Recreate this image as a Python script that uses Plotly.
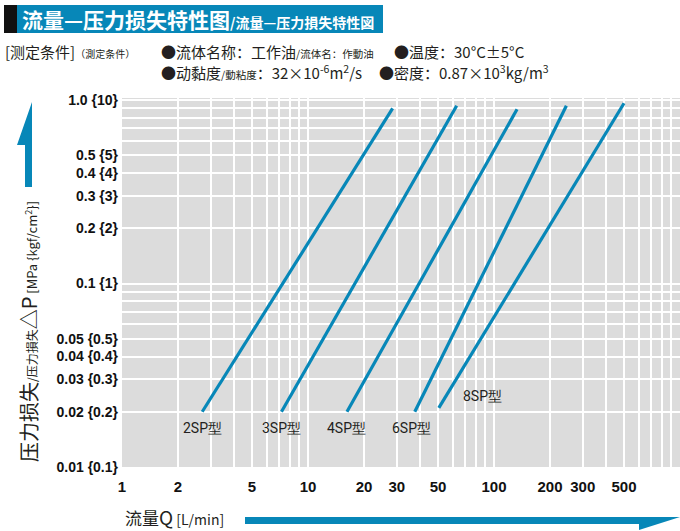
import math
import plotly.graph_objects as go

# ---------------- data ----------------
models = ["2SP型", "3SP型", "4SP型", "6SP型", "8SP型"]
flow_low = [2.7, 7.2, 16.2, 37.5, 50.5]        # L/min at the lower end of each line
flow_high = [28.5, 63, 133, 245, 500]          # L/min at the upper end
dp_low = [0.020, 0.020, 0.020, 0.020, 0.021]   # MPa at the lower end
dp_high = [0.90, 0.93, 0.89, 0.93, 0.96]       # MPa at the upper end

x_grid = [m * d for d in (1, 10, 100) for m in range(1, 10)] + [1000]
x_tick_vals = [1, 2, 5, 10, 20, 30, 50, 100, 200, 300, 500]
x_tick_text = ["1", "2", "5", "10", "20", "30", "50", "100", "200", "300", "500"]
y_grid = [round(m * d, 3) for d in (0.01, 0.1) for m in range(1, 10)] + [1.0]
y_tick_vals = [0.01, 0.02, 0.03, 0.04, 0.05, 0.1, 0.2, 0.3, 0.4, 0.5, 1.0]
y_tick_text = ["0.01 {0.1}", "0.02 {0.2}", "0.03 {0.3}", "0.04 {0.4}", "0.05 {0.5}",
               "0.1 {1}", "0.2 {2}", "0.3 {3}", "0.4 {4}", "0.5 {5}", "1.0 {10}"]

# ---------------- styles ----------------
BLUE = "#0787b8"
TXT = "#231f20"
NUM = "Roboto, Arial, sans-serif"
BOLDNUM = "Liberation Sans, Arial, sans-serif"
CJK = "Noto Sans CJK SC, Noto Sans CJK JP, sans-serif"

W, H = 680, 531
L, R, T, B = 122, 0, 98, 64
PW, PH = W - L - R, H - T - B


def px(x):
    return (x - L) / PW


def py(y):
    return (H - B - y) / PH


fig = go.Figure()
for name, x0, x1, y0, y1 in zip(models, flow_low, flow_high, dp_low, dp_high):
    fig.add_trace(go.Scatter(x=[x0, x1], y=[y0, y1], mode="lines",
                             line=dict(color=BLUE, width=3.2), name=name,
                             hoverinfo="skip"))

# line labels (log axes -> annotation positions in log10 units)
label_shift = {"2SP型": (0, -16), "3SP型": (0, -16), "4SP型": (0, -16),
               "6SP型": (-3, -16), "8SP型": (44, 12)}
for name, x0, y0 in zip(models, flow_low, dp_low):
    dx, dy = label_shift[name]
    fig.add_annotation(x=math.log10(x0), y=math.log10(y0), xref="x", yref="y",
                       text=name, showarrow=False,
                       xanchor="center", yanchor="middle", xshift=dx, yshift=dy,
                       font=dict(family=NUM, size=14, color=TXT))

grid = dict(showgrid=True, gridcolor="white", gridwidth=2)
fig.update_xaxes(type="log", range=[0, 3], tickmode="array", tickvals=x_tick_vals,
                 ticktext=[f"<b>{t}</b>" for t in x_tick_text],
                 zeroline=False, showline=False, ticks="",
                 ticklabelstandoff=9, **grid,
                 minor=dict(tickmode="array", tickvals=x_grid, ticks="", **grid),
                 tickfont=dict(family=BOLDNUM, size=15, color="#111"))
fig.update_yaxes(type="log", range=[-2, 0.011], tickmode="array", tickvals=y_tick_vals,
                 ticktext=[f"<b>{t}</b>" for t in y_tick_text],
                 zeroline=False, showline=False, ticks="",
                 ticklabelstandoff=3, **grid,
                 minor=dict(tickmode="array", tickvals=y_grid, ticks="", **grid),
                 tickfont=dict(family=BOLDNUM, size=14, color="#111"))

shapes = [
    dict(type="rect", xref="paper", yref="paper", x0=px(4), x1=px(17), y0=py(33), y1=py(5),
         fillcolor="#111", line=dict(width=0)),
    dict(type="rect", xref="paper", yref="paper", x0=px(17), x1=px(383), y0=py(33), y1=py(5),
         fillcolor=BLUE, line=dict(width=0)),
]
# y arrow (harpoon pointing up)
pts = [(25, 187), (25, 145), (17, 145), (32, 102), (32, 187)]
path = "M " + " L ".join(f"{px(a):.5f},{py(b):.5f}" for a, b in pts) + " Z"
shapes.append(dict(type="path", xref="paper", yref="paper", path=path,
                   fillcolor=BLUE, line=dict(width=0)))
# x arrow (harpoon pointing right)
pts = [(245, 517), (680, 517), (639, 530), (639, 524), (245, 524)]
path = "M " + " L ".join(f"{px(a):.5f},{py(b):.5f}" for a, b in pts) + " Z"
shapes.append(dict(type="path", xref="paper", yref="paper", path=path,
                   fillcolor=BLUE, line=dict(width=0)))
fig.update_layout(shapes=shapes)


def ann(x, y, text, size, color=TXT, family=CJK, anchor="left", angle=0, yanchor="middle"):
    fig.add_annotation(x=px(x), y=py(y), xref="paper", yref="paper", text=text,
                       showarrow=False, xanchor=anchor, yanchor=yanchor, textangle=angle,
                       font=dict(family=family, size=size, color=color))


# title
ann(20, 19, "<b>流量—压力损失特性图</b><span style='font-size:14px'><b>/流量—压力損失特性図</b></span>",
    21, color="white")
# conditions
ann(3, 51, "[测定条件]<span style='font-size:10px'>（測定条件）</span>", 15)
ann(159, 51, "●流体名称：工作油<span style='font-size:10.5px'>/流体名：作動油</span>", 15)
ann(392, 51, "●温度：30°C±5°C", 15)
ann(159, 72, "●动黏度<span style='font-size:10.5px'>/動粘度</span>：32×10<sup>-6</sup>m<sup>2</sup>/s", 15)
ann(377, 72, "●密度：0.87×10<sup>3</sup>kg/m<sup>3</sup>", 15)
# axis titles
ann(28, 332, "压力损失<span style='font-size:12px'>/压力損失</span>△P"
    "<span style='font-size:13px'> [MPa {kgf/cm<sup>2</sup>}]</span>", 20,
    anchor="center", angle=-90)
ann(123, 516, "流量<span style='font-size:19px'>Q</span>"
    "<span style='font-size:14px'> [L/min]</span>", 17)

fig.update_layout(width=W, height=H, margin=dict(l=L, r=R, t=T, b=B),
                  paper_bgcolor="white", plot_bgcolor="#dcdcdc", showlegend=False)

fig.write_html("out.html", config={"displayModeBar": False},
               post_script="document.body.style.margin='0';"
                           "document.body.style.overflow='hidden';")
